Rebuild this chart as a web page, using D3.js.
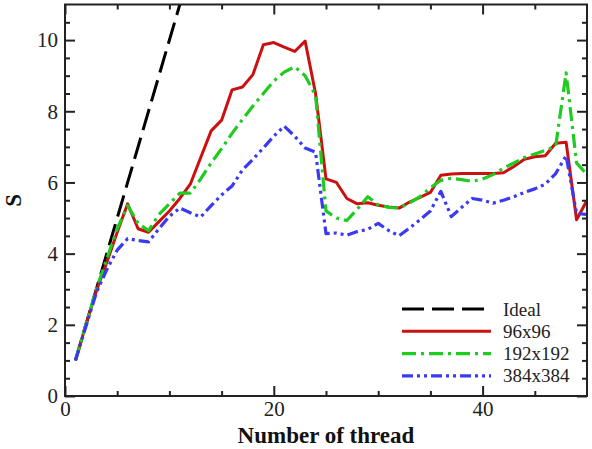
<!DOCTYPE html>
<html>
<head>
<meta charset="utf-8">
<script src="https://cdn.jsdelivr.net/npm/d3@7/dist/d3.min.js"></script>
<style>
  html, body { margin: 0; padding: 0; background: #fff; }
  svg { display: block; }
  text { font-family: "Liberation Serif", "Times New Roman", serif; }
</style>
</head>
<body>
<svg id="chart" width="592" height="449"></svg>
<script>
// ---- data ----
const threads = [1,2,3,4,5,6,7,8,9,10,11,12,13,14,15,16,17,18,19,20,21,22,23,24,25,26,27,28,29,30,31,32,33,34,35,36,37,38,39,40,41,42,43,44,45,46,47,48,49,50];
const idealX = [1, 11];
const idealY = [1, 11];
const s96 = [1.0,2.0,2.95,3.75,4.6,5.4,4.7,4.6,4.9,5.2,
             5.55,5.95,6.7,7.45,7.75,8.6,8.68,9.03,9.87,9.93,
             9.8,9.68,9.97,8.5,6.1,6.0,5.55,5.4,5.43,5.36,
             5.31,5.28,5.45,5.58,5.72,6.2,6.24,6.25,6.25,6.25,
             6.25,6.27,6.45,6.65,6.72,6.75,7.1,7.13,4.95,5.5];
const s192 = [1.0,2.0,3.0,3.85,4.7,5.35,4.85,4.65,5.1,5.4,
              5.7,5.7,6.1,6.55,6.95,7.38,7.77,8.15,8.5,8.85,
              9.1,9.25,9.0,8.45,5.2,5.0,4.93,5.25,5.6,5.37,
              5.3,5.28,5.42,5.6,5.85,6.06,6.12,6.08,6.03,6.1,
              6.22,6.4,6.55,6.7,6.8,6.9,7.02,9.08,6.55,6.22];
const s384 = [1.0,1.95,2.9,3.55,4.1,4.42,4.37,4.33,4.7,5.05,
              5.28,5.15,5.03,5.35,5.65,5.9,6.35,6.65,6.97,7.3,
              7.58,7.3,6.97,6.85,4.56,4.58,4.52,4.62,4.68,4.85,
              4.65,4.5,4.72,4.95,5.2,5.75,5.04,5.3,5.55,5.5,
              5.42,5.5,5.6,5.72,5.82,5.95,6.25,6.75,5.13,5.1];
const xMajor = [0, 20, 40];
const xMinor = [5, 10, 15, 25, 30, 35, 45];
const yMajor = [0, 2, 4, 6, 8, 10];
const yMinor = [0.5,1,1.5,2.5,3,3.5,4.5,5,5.5,6.5,7,7.5,8.5,9,9.5,10.5];
const seriesNames = ["Ideal", "96x96", "192x192", "384x384"];
const xTitle = "Number of thread";
const yTitle = "S";

// ---- layout ----
const L = 65, R = 587, T = 4.5, B = 396;
const FONT = "'Liberation Serif', 'Times New Roman', serif";
const svg = d3.select("#chart");
svg.append("rect").attr("width", 592).attr("height", 449).attr("fill", "#fff");

const x = d3.scaleLinear().domain([0, 50]).range([L, R]);
const y = d3.scaleLinear().domain([0, 11]).range([B, T]);

const styles = [
  {color: "#000000", dash: "22,8", width: 3},
  {color: "#cc1010", dash: null, width: 3},
  {color: "#1ecb1e", dash: "14,5,3,5", width: 3.2},
  {color: "#3a3af2", dash: "11,4,3,4,3,4", width: 3.2}
];

svg.append("clipPath").attr("id", "plotclip")
  .append("rect").attr("x", L).attr("y", T).attr("width", R - L).attr("height", B - T);

const line = d3.line().x(d => x(d[0])).y(d => y(d[1]));
const seriesData = [
  idealX.map((v, i) => [v, idealY[i]]),
  threads.map((t, i) => [t, s96[i]]),
  threads.map((t, i) => [t, s192[i]]),
  threads.map((t, i) => [t, s384[i]])
];

const plot = svg.append("g").attr("clip-path", "url(#plotclip)");
seriesData.forEach((d, i) => {
  plot.append("path").datum(d)
    .attr("d", line)
    .attr("fill", "none")
    .attr("stroke", styles[i].color)
    .attr("stroke-width", styles[i].width)
    .attr("stroke-dasharray", styles[i].dash)
    .attr("stroke-linejoin", "round");
});

// ---- axes ----
const axisColor = "#222";
function styleAxis(g) {
  g.attr("font-family", FONT).attr("font-size", 21);
  g.select(".domain").remove();
  g.selectAll(".tick line").attr("stroke", axisColor).attr("stroke-width", 2);
  g.selectAll(".tick text").attr("fill", "#222")
    .attr("font-family", FONT).style("font-family", FONT).style("font-size", "21px");
}
svg.append("g").attr("transform", `translate(0,${B})`)
  .call(d3.axisBottom(x).tickValues(xMajor).tickSize(-10).tickPadding(5).tickFormat(d3.format("d")))
  .call(styleAxis);
svg.append("g").attr("transform", `translate(0,${B})`)
  .call(d3.axisBottom(x).tickValues(xMinor).tickSize(-5).tickFormat(""))
  .call(styleAxis);
svg.append("g").attr("transform", `translate(0,${T})`)
  .call(d3.axisTop(x).tickValues(xMajor).tickSize(-10).tickFormat(""))
  .call(styleAxis);
svg.append("g").attr("transform", `translate(0,${T})`)
  .call(d3.axisTop(x).tickValues(xMinor).tickSize(-5).tickFormat(""))
  .call(styleAxis);
svg.append("g").attr("transform", `translate(${L},0)`)
  .call(d3.axisLeft(y).tickValues(yMajor).tickSize(-10).tickPadding(7).tickFormat(d3.format("d")))
  .call(styleAxis);
svg.append("g").attr("transform", `translate(${L},0)`)
  .call(d3.axisLeft(y).tickValues(yMinor).tickSize(-5).tickFormat(""))
  .call(styleAxis);
svg.append("g").attr("transform", `translate(${R},0)`)
  .call(d3.axisRight(y).tickValues(yMajor).tickSize(-10).tickFormat(""))
  .call(styleAxis);
svg.append("g").attr("transform", `translate(${R},0)`)
  .call(d3.axisRight(y).tickValues(yMinor).tickSize(-5).tickFormat(""))
  .call(styleAxis);

svg.append("rect").attr("x", L).attr("y", T).attr("width", R - L).attr("height", B - T)
  .attr("fill", "none").attr("stroke", axisColor).attr("stroke-width", 2);

// ---- titles ----
svg.append("text").attr("x", (L + R) / 2).attr("y", 443)
  .attr("text-anchor", "middle").attr("font-family", FONT).style("font-size", "23px").style("font-weight", "bold")
  .attr("fill", "#111").text(xTitle);
svg.append("text").attr("transform", `translate(21,${(T + B) / 2}) rotate(-90)`)
  .attr("text-anchor", "middle").attr("font-family", FONT).style("font-size", "23px").style("font-weight", "bold")
  .attr("fill", "#111").text(yTitle);

// ---- legend ----
const legY = [309, 331.3, 353.6, 375.9];
const leg = svg.append("g");
seriesNames.forEach((name, i) => {
  leg.append("line").attr("x1", 402).attr("x2", 491).attr("y1", legY[i]).attr("y2", legY[i])
    .attr("stroke", styles[i].color).attr("stroke-width", styles[i].width)
    .attr("stroke-dasharray", styles[i].dash);
  leg.append("text").attr("x", 503).attr("y", legY[i] + 6.5)
    .attr("font-family", FONT).style("font-size", "19px").attr("fill", "#222").text(name);
});
</script>
</body>
</html>
